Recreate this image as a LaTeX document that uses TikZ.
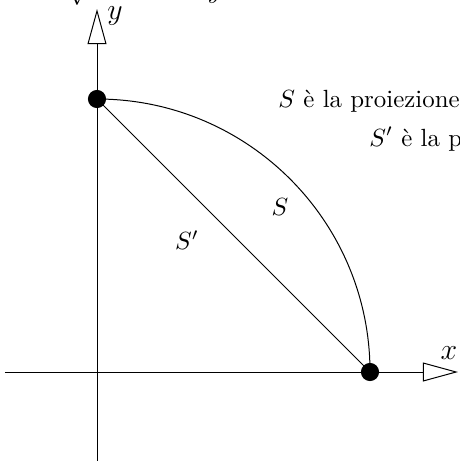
\documentclass[tikz,border=0pt]{standalone}
\usetikzlibrary{arrows.meta}
\begin{document}
\begin{tikzpicture}[x=0.402pt,y=-0.402pt,
  axis/.style={line width=0.4pt,-{Triangle[open,length=14.1pt,width=7.6pt]}},
  dot/.style={circle,fill=black,inner sep=0pt,minimum size=7.3pt},
  lbl/.style={inner sep=0pt}]
\useasboundingbox (0,0) rectangle (459,461);
\coordinate (xs) at (5,372);
\coordinate (xe) at (458,372);
\coordinate (ys) at (97,462);
\coordinate (ye) at (97,9);
\draw[axis] (xs) -- (xe);
\draw[axis] (ys) -- (ye);
\draw (97,99) arc[start angle=90,end angle=0,radius=109.75pt];
\node[dot] (A) at (97,99) {};
\node[dot] (B) at (370,372) {};
\draw (A.center) -- (B.center);
\node[lbl,font=\large] (ylab) at (115,16) {$y$};
\node[lbl,font=\large] (xlab) at (449,353) {$x$};
\node[lbl] (S) at (280,207) {$S$};
\node[lbl] (Sp) at (187,240) {$S'$};
\node[lbl,anchor=base west] (t1) at (278,107) {$S$ è la proiezione};
\node[lbl,anchor=base west] (t2) at (369,146) {$S'$ è la proiezione};
\node[lbl,anchor=base west] (top) at (66,-2) {$\sqrt{R^2-x^2-y^2}$};
\end{tikzpicture}
\end{document}
